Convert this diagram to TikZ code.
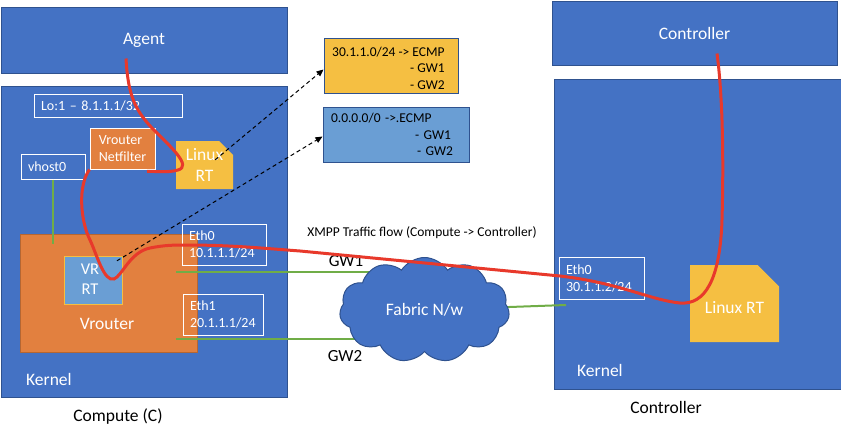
\documentclass[tikz,border=0pt]{standalone}
\usepackage{fontspec}
\setmainfont{Carlito}
\usetikzlibrary{shapes.misc, shapes.symbols, arrows.meta}

\definecolor{hostblue}{HTML}{4472C4}
\definecolor{edgeblue}{HTML}{2F528F}
\definecolor{vrorange}{HTML}{E2803F}
\definecolor{rtyellow}{HTML}{F5BF42}
\definecolor{rtblue}{HTML}{6A9ED4}
\definecolor{linkgreen}{HTML}{70AD47}
\definecolor{flowred}{HTML}{E8392B}

\begin{document}
\begin{tikzpicture}[x=1pt, y=-1pt,
    bigtxt/.style={font=\fontsize{17.5}{21}\selectfont},
    smalltxt/.style={font=\fontsize{14}{17}\selectfont},
    tabtxt/.style={font=\fontsize{13.5}{16.5}\selectfont},
    hostbox/.style={draw=edgeblue, fill=hostblue, line width=1pt, inner sep=0pt, text=white},
    wirebox/.style={draw=white, line width=1pt, inner xsep=7pt, inner ysep=0pt, text=white, align=left, smalltxt},
    cutcorner/.style={chamfered rectangle, chamfered rectangle corners=north east,
        chamfered rectangle xsep=#1, chamfered rectangle ysep=#1, inner sep=0pt},
    tablebox/.style={draw=edgeblue, line width=1pt, inner xsep=8pt, inner ysep=0pt, align=left, tabtxt},
    wire/.style={draw=linkgreen, line width=2pt},
    xmpp/.style={draw=flowred, line width=3pt},
    lookup/.style={dash pattern=on 4pt off 3pt, line width=1pt, -{Triangle[length=7pt,width=6pt]}},
    txt/.style={inner sep=0pt}]
    \useasboundingbox (0,0) rectangle (841,439);

    % Compute side
    \node (agent) at (144,40) [hostbox, minimum width=286pt, minimum height=66pt, bigtxt] {Agent};
    \node (compute) at (144,241.5) [hostbox, minimum width=286pt, minimum height=311pt] {};
    \node (lo) at (108,105.5) [wirebox, text width=134pt, minimum height=23pt] {Lo:1 -- 8.1.1.1/32};
    \node (nfilter) at (122.5,148.5) [draw=white, fill=vrorange, line width=1pt, inner sep=0pt,
        minimum width=65pt, minimum height=41pt, text=white, align=left, smalltxt] {Vrouter\\Netfilter};
    \node (linuxL) at (204.5,165) [cutcorner=7pt, fill=rtyellow, minimum width=57pt, minimum height=48pt,
        text=white, align=center, bigtxt] {Linux\\RT};
    \node (vhost) at (53,166.5) [wirebox, text width=50pt, minimum height=25pt] {vhost0};
    \node (vrouter) at (108.5,293) [draw=vrorange!80!black, fill=vrorange, line width=0.8pt,
        minimum width=177pt, minimum height=118pt] {};
    \node (vrrt) at (93,280) [cutcorner=6pt, draw=rtyellow, fill=rtblue, line width=1pt,
        minimum width=58pt, minimum height=48pt] {};
    \node (vrrttxt) at (90,279.5) [txt, text=white, align=center, font=\fontsize{16.5}{20}\selectfont] {VR\\RT};
    \node (vrlabel) at (107,324) [txt, bigtxt, text=white] {Vrouter};
    \node (eth0L) at (224,244.5) [wirebox, text width=70pt, minimum height=41pt] {Eth0\\10.1.1.1/24};
    \node (eth1L) at (223,314.5) [wirebox, text width=66pt, minimum height=41pt] {Eth1\\20.1.1.1/24};
    \node (kernelL) at (26,379) [txt, anchor=west, bigtxt, text=white] {Kernel};
    \node (computelabel) at (118,417) [txt, bigtxt] {Compute (C)};

    % Controller side
    \node (ctrl) at (694.5,33) [hostbox, minimum width=285pt, minimum height=64pt, bigtxt] {Controller};
    \node (ctrlkernel) at (697.5,234) [hostbox, minimum width=287pt, minimum height=310pt] {};
    \node (eth0R) at (601.5,278) [wirebox, text width=71pt, minimum height=42pt] {Eth0\\30.1.1.2/24};
    \node (linuxR) at (734.5,303.5) [cutcorner=12pt, fill=rtyellow, minimum width=89pt, minimum height=77pt,
        text height=19pt, text depth=0pt, text=white, bigtxt] {Linux RT};
    \node (kernelR) at (577,370) [txt, anchor=west, bigtxt, text=white] {Kernel};
    \node (ctrllabel) at (666,407) [txt, bigtxt] {Controller};

    % Route tables
    \node (tabA) at (391,65.5) [tablebox, fill=rtyellow, minimum width=134pt, minimum height=55pt] {};
    \node (tabAtxt) at (332,46.5) [txt, anchor=north west, align=left, tabtxt]
        {30.1.1.0/24 -> ECMP\\\hspace*{78pt}- GW1\\\hspace*{78pt}- GW2};
    \node (tabB) at (396,134.5) [tablebox, fill=rtblue, text width=130pt, minimum height=55pt]
        {0.0.0.0/0 ->.ECMP\\\hspace*{84pt}- GW1\\\hspace*{86pt}- GW2};

    % Links to the fabric
    \coordinate (gw1start) at (176,272);
    \coordinate (gw2start) at (176,339);
    \coordinate (ctrllink) at (566,305);
    \draw[wire] (vhost.south) -- ++(0,64);
    \draw[wire] (gw1start) -- (gw1start -| 424.5,310);
    \draw[wire] (gw2start) -- (gw2start -| 424.5,310);
    \draw[wire] (424.5,310) -- (ctrllink);
    \node (fabric) at (424.5,310) [cloud, cloud puffs=11, cloud puff arc=115, aspect=1.6,
        draw=edgeblue, fill=hostblue, line width=1pt, minimum width=170pt, minimum height=105pt,
        text=white, bigtxt] {Fabric N/w};
    \node (gw1) at (346,261) [txt, font=\fontsize{17}{20}\selectfont] {GW1};
    \node (gw2) at (345,356) [txt, font=\fontsize{17}{20}\selectfont] {GW2};
    \node (flowlabel) at (422,233) [txt, tabtxt] {XMPP Traffic flow (Compute -> Controller)};

    % XMPP flow: agent to netfilter through linux RT
    \draw[xmpp] ([xshift=-18pt,yshift=15pt]agent.south) .. controls (128,95) and (135,110) .. (152,128)
        .. controls (172,148) and (192,166) .. (178,170) .. controls (168,173) and (155,171) .. ([xshift=24.5pt,yshift=-2pt]nfilter.south);
    % XMPP flow: netfilter to controller through VR RT and fabric
    \draw[xmpp] (nfilter.south west) .. controls (78,185) and (80,220) .. (90,240)
        .. controls (97,255) and (104,282) .. (114,279) .. controls (122,276) and (130,252) .. (150,248)
        .. controls (165,245) and (175,245) .. (185,245)
        .. controls (230,245) and (260,248) .. (300,251) -- (560,276)
        .. controls (620,283) and (650,300) .. (680,303) .. controls (705,305) and (720,280) .. (722,220)
        .. controls (724,150) and (722,90) .. ([xshift=22.5pt,yshift=12pt]ctrl.south);

    % Route lookups
    \draw[lookup] ([xshift=-11pt,yshift=-12pt]linuxL.north east) -- ([yshift=-4pt]tabA.west);
    \draw[lookup] ([xshift=-5pt,yshift=-5pt]vrrt.north east) -- ([yshift=-2pt]tabB.west);
\end{tikzpicture}
\end{document}
